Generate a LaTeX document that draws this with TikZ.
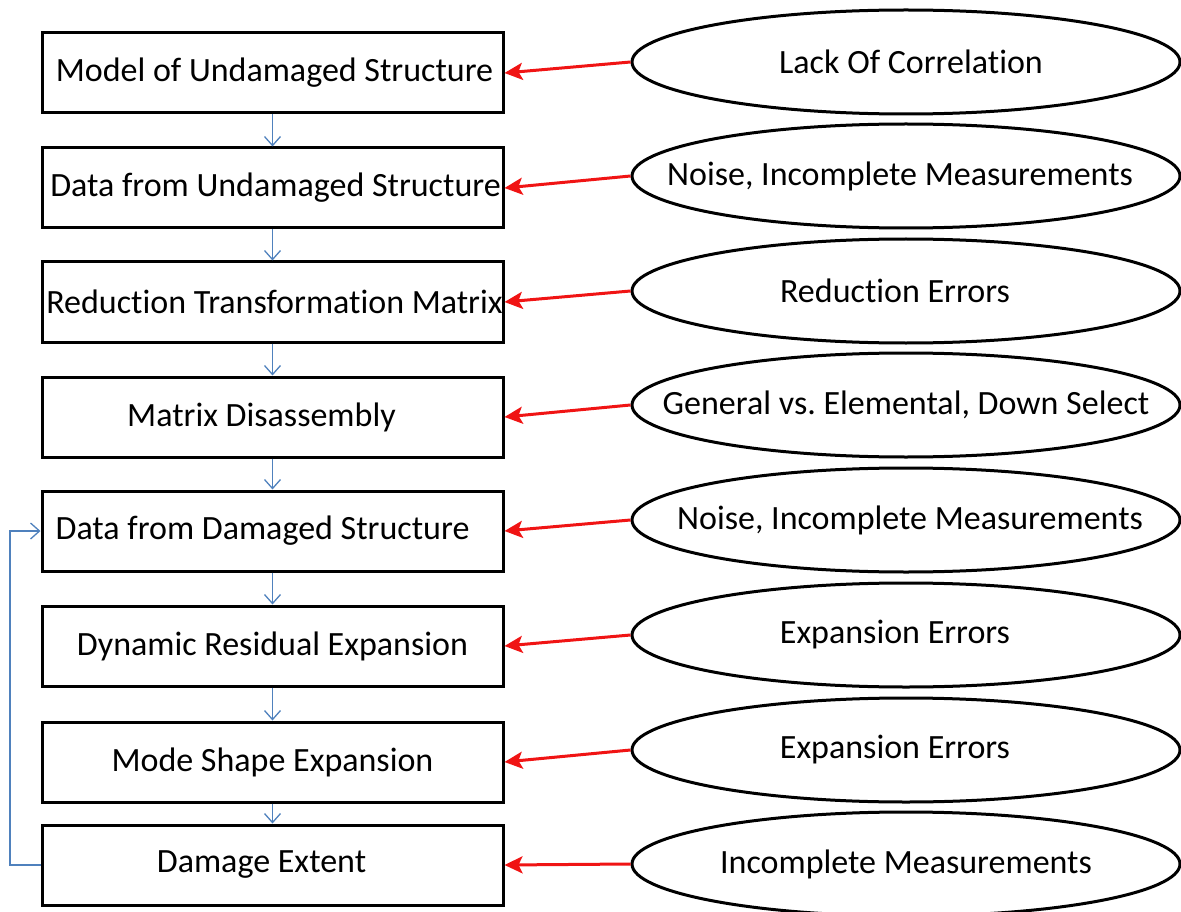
\documentclass[tikz,border=0pt]{standalone}
\usepackage{fontspec}
\setmainfont{Carlito}[Ligatures=NoCommon]
\usetikzlibrary{arrows.meta,shapes.geometric}
\definecolor{flowblue}{RGB}{79,129,189}
\definecolor{errred}{RGB}{240,20,20}
\frenchspacing
% zero-width text, shifted horizontally by half of the first argument
\newcommand{\zwo}[2]{\makebox[0pt]{\hspace*{#1}#2}}
\begin{document}
\begin{tikzpicture}[x=1pt,y=-1pt,
  stepbox/.style={draw=black,line width=3pt,minimum width=461pt,minimum height=80pt,inner sep=0pt,font=\fontsize{34}{40}\selectfont},
  errell/.style={draw=black,line width=3pt,ellipse,minimum width=548pt,minimum height=104pt,inner sep=0pt,font=\fontsize{34}{40}\selectfont},
  flow/.style={draw=flowblue,line width=1.3pt,-{Straight Barb[length=9pt,width=16pt,line width=1.3pt]}},
  errarrow/.style={draw=errred,line width=3pt,-{Stealth[length=18pt,width=17pt,inset=4pt]}}]
\useasboundingbox (0,0) rectangle (1181,912);
% process boxes
\node[stepbox] (b1) at (272.5,73) {\zwo{4pt}{Model of Undamaged Structure}};
\node[stepbox] (b2) at (272.5,188) {\zwo{6pt}{Data from Undamaged Structure}};
\node[stepbox] (b3) at (272.5,302) {\zwo{4pt}{Reduction Transformation Matrix}};
\node[stepbox] (b4) at (272.5,417) {\zwo{-22pt}{Matrix Disassembly}};
\node[stepbox] (b5) at (272.5,531) {\zwo{-20pt}{Data from Damaged Structure}};
\node[stepbox] (b6) at (272.5,646) {Dynamic Residual Expansion};
\node[stepbox] (b7) at (272.5,762) {Mode Shape Expansion};
\node[stepbox] (b8) at (272.5,865) {\zwo{-22pt}{Damage Extent}};
% error ellipses
\node[errell] (e1) at (906,62) {\zwo{10pt}{Lack Of Correlation}};
\node[errell] (e2) at (906,176) {\zwo{-12pt}{Noise, Incomplete Measurements}};
\node[errell] (e3) at (906,291) {\zwo{-22pt}{Reduction Errors}};
\node[errell] (e4) at (906,405) {\zwo{0pt}{General vs. Elemental, Down Select}};
\node[errell] (e5) at (906,520) {\zwo{8pt}{Noise, Incomplete Measurements}};
\node[errell] (e6) at (906,635) {\zwo{-22pt}{Expansion Errors}};
\node[errell] (e7) at (906,750) {\zwo{-22pt}{Expansion Errors}};
\node[errell] (e8) at (906,864) {\zwo{0pt}{Incomplete Measurements}};
% flow arrows
\foreach \a/\b in {b1/b2,b2/b3,b3/b4,b4/b5,b5/b6,b6/b7,b7/b8}
  \draw[flow] (\a.south) -- (\b.north);
% feedback loop
\coordinate (lb) at (10,865);
\coordinate (lt) at (10,531);
\draw[flow] (b8.west) -- (lb) -- (lt) -- (b5.west);
% error arrows
\foreach \i in {1,...,8}
  \draw[errarrow] (e\i.west) -- (b\i.east);
\end{tikzpicture}
\end{document}
